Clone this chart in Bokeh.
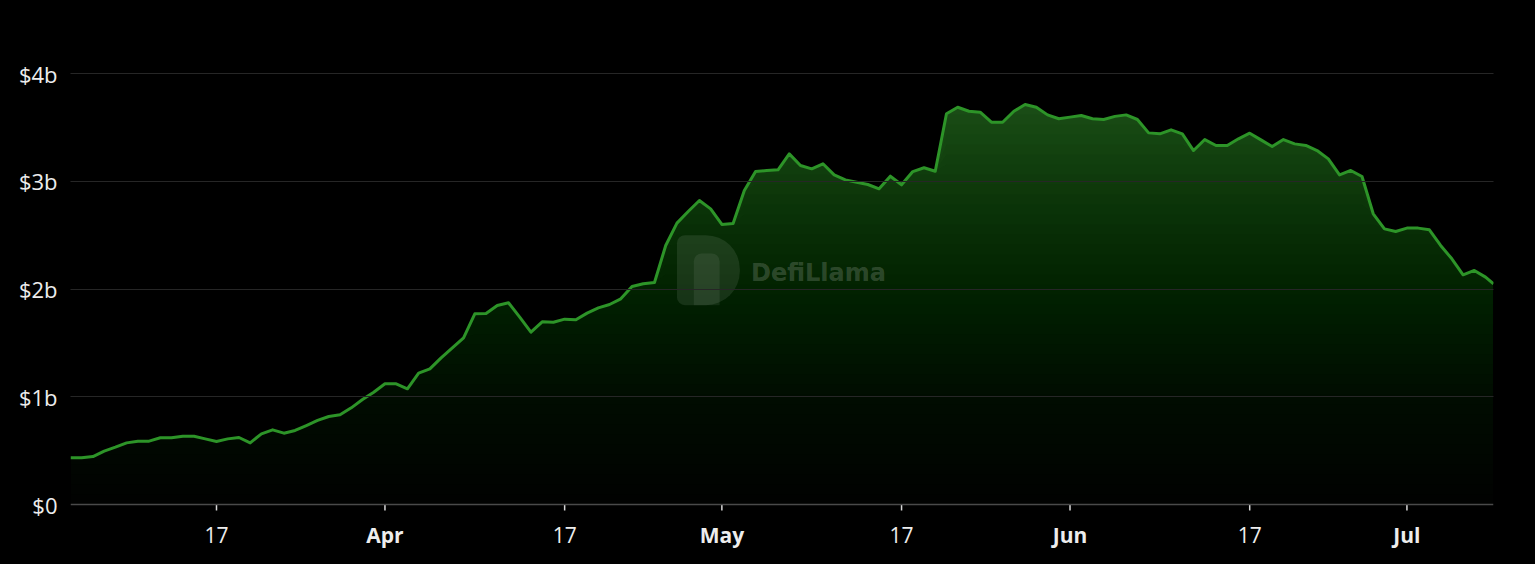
import re
import numpy as np
import pandas as pd
from bokeh.plotting import figure
from bokeh.models import FixedTicker, Range1d, Label, BoxAnnotation, Span
from bokeh.embed import file_html
from bokeh.resources import INLINE

# ---------------- data (TVL in $ billions) ----------------
start_date = "2024-03-04"
n_daily = 127
last_stamp = "2024-07-08 17:00"   # latest (intraday) point

tvl_b = [
    0.433, 0.433, 0.445, 0.495, 0.532, 0.572, 0.588, 0.588, 0.619, 0.619,
    0.634, 0.634, 0.609, 0.585, 0.609, 0.622, 0.572, 0.656, 0.693, 0.662,
    0.687, 0.733, 0.780, 0.817, 0.832, 0.897, 0.974, 1.042, 1.120, 1.120,
    1.074, 1.219, 1.259, 1.361, 1.454, 1.547, 1.770, 1.773, 1.847, 1.872,
    1.739, 1.599, 1.695, 1.692, 1.720, 1.714, 1.776, 1.825, 1.856, 1.909,
    2.023, 2.048, 2.060, 2.404, 2.611, 2.719, 2.821, 2.744, 2.599, 2.608,
    2.914, 3.090, 3.100, 3.106, 3.254, 3.146, 3.115, 3.162, 3.059, 3.013,
    2.991, 2.970, 2.930, 3.047, 2.967, 3.090, 3.125, 3.093, 3.626, 3.687,
    3.650, 3.641, 3.548, 3.548, 3.650, 3.712, 3.687, 3.616, 3.580, 3.595,
    3.610, 3.580, 3.573, 3.602, 3.616, 3.573, 3.449, 3.440, 3.477, 3.440,
    3.285, 3.387, 3.332, 3.332, 3.394, 3.446, 3.384, 3.322, 3.387, 3.347,
    3.332, 3.285, 3.208, 3.059, 3.100, 3.044, 2.698, 2.558, 2.534, 2.565,
    2.565, 2.549, 2.404, 2.280, 2.132, 2.172, 2.110,
    2.048,
]

x_tick_dates = ["2024-03-17", "2024-04-01", "2024-04-17", "2024-05-01",
                "2024-05-17", "2024-06-01", "2024-06-17", "2024-07-01"]
y_ticks = [0, 1, 2, 3, 4]
y_tick_labels = ["$0", "$1b", "$2b", "$3b", "$4b"]

# ---------------- build ----------------
dates = list(pd.date_range(start_date, periods=n_daily, freq="D")) + [pd.Timestamp(last_stamp)]
dates = pd.DatetimeIndex(dates)
vals = np.array(tvl_b, dtype=float)

LINE = "#2d9428"
TXT = "#ededed"
FONT = "Open Sans"

W, H = 1519, 548
TOP, LEFT, RIGHT = 71, 70, 26
PX_PER_B = 107.75
Y_HI = 4 + 2 / PX_PER_B
Y_LO = Y_HI - (H - TOP) / PX_PER_B   # extra room below $0 for the date labels

p = figure(width=W, height=H, x_axis_type="datetime",
           output_backend="svg", toolbar_location=None,
           x_range=Range1d(dates[0], dates[-1]), y_range=Range1d(Y_LO, Y_HI),
           background_fill_color="#000000", border_fill_color="#000000",
           outline_line_color=None, outline_line_alpha=0,
           min_border_left=LEFT, min_border_right=RIGHT,
           min_border_top=TOP, min_border_bottom=0)

# gradient-like fill: stacked translucent bands from level up to the line
N = 40
vmax = vals.max()
A_max = 0.9
prev = 0.0
for k in range(N):
    target = A_max * (k + 1) / N
    a_k = 1 - (1 - target) / (1 - prev)
    prev = target
    lo = vmax * k / N
    p.varea(x=dates, y1=np.minimum(vals, lo), y2=vals,
            fill_color="#255a21", fill_alpha=float(a_k))

# grid
p.xgrid.grid_line_color = None
p.ygrid.ticker = FixedTicker(ticks=y_ticks[1:])
p.ygrid.grid_line_color = "#262626"
p.ygrid.grid_line_width = 1
p.ygrid.level = "overlay"

p.line(dates, vals, line_color=LINE, line_width=3, line_join="round")

# y axis
p.yaxis.ticker = FixedTicker(ticks=y_ticks)
p.yaxis.major_label_overrides = {t: s for t, s in zip(y_ticks, y_tick_labels)}
p.yaxis.axis_line_color = None
p.yaxis.major_tick_line_color = None
p.yaxis.major_tick_out = 0
p.yaxis.major_tick_in = 0
p.yaxis.minor_tick_line_color = None
p.yaxis.major_label_standoff = 13
p.yaxis.major_label_text_font = FONT
p.yaxis.major_label_text_font_size = "22px"
p.yaxis.major_label_text_color = TXT

# x axis drawn inside the extended frame
p.xaxis.visible = False
p.add_layout(Span(location=0, dimension="width", line_color="#4a4a4a", line_width=1.5))

tick_ts = [pd.Timestamp(d) for d in x_tick_dates]
tick_ms = [t.value // 10**6 for t in tick_ts]
tick_len = 6 / PX_PER_B
p.segment(x0=tick_ms, y0=[0] * len(tick_ms), x1=tick_ms, y1=[-tick_len] * len(tick_ms),
          line_color="#d8d8d8", line_width=1.5)

for t, m in zip(tick_ts, tick_ms):
    is_month = t.day == 1
    p.add_layout(Label(x=m, y=-30 / PX_PER_B, text=(t.strftime("%b") if is_month else str(t.day)),
                       text_align="center", text_baseline="alphabetic",
                       text_font=FONT, text_font_size="21px",
                       text_font_style=("bold" if is_month else "normal"),
                       text_color=TXT))

# watermark (decoration)
wm_day = pd.Timestamp(start_date)
def dx(days):
    return (wm_day + pd.Timedelta(days=days)).value // 10**6

p.add_layout(BoxAnnotation(left=dx(54.0), right=dx(59.6), bottom=1.85, top=2.50,
                           fill_color="#ffffff", fill_alpha=0.09, line_color=None,
                           border_radius=(8, 34, 34, 8)))
p.add_layout(BoxAnnotation(left=dx(55.5), right=dx(57.8), bottom=1.85, top=2.33,
                           fill_color="#ffffff", fill_alpha=0.07, line_color=None,
                           border_radius=(8, 8, 0, 0)))
p.add_layout(Label(x=dx(60.6), y=2.15, text="DefiLlama", text_baseline="middle",
                   text_font="DejaVu Sans", text_font_style="bold",
                   text_font_size="24px", text_color="#ffffff", text_alpha=0.18))

html = file_html(p, INLINE)
html = re.sub(r"<body([^>]*)>", r'<body\1 style="background:#000000;">', html, count=1)
html = re.sub(r"<html([^>]*)>", r'<html\1 style="background:#000000;">', html, count=1)
open("out.html", "w").write(html)
